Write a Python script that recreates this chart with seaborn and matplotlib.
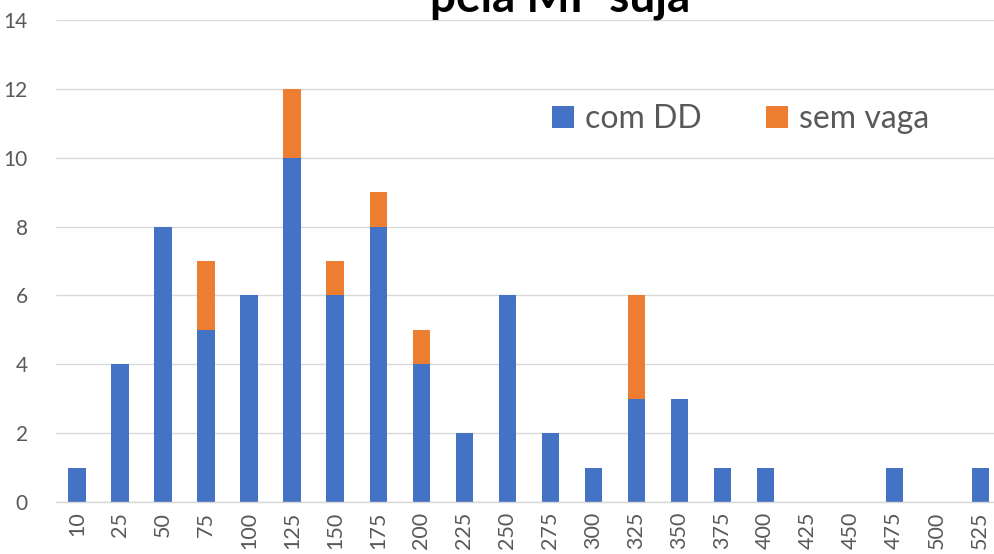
import matplotlib
matplotlib.use("Agg")
import matplotlib.pyplot as plt
import seaborn as sns
import pandas as pd

categories = ["10", "25", "50", "75", "100", "125", "150", "175", "200", "225", "250",
              "275", "300", "325", "350", "375", "400", "425", "450", "475", "500", "525"]
com_dd = [1, 4, 8, 5, 6, 10, 6, 8, 4, 2, 6, 2, 1, 3, 3, 1, 1, 0, 0, 1, 0, 1]
sem_vaga = [0, 0, 0, 2, 0, 2, 1, 1, 1, 0, 0, 0, 0, 3, 0, 0, 0, 0, 0, 0, 0, 0]
yticks = [0, 2, 4, 6, 8, 10, 12, 14]
title = "pela MP suja"

sns.set_theme(style="white")
plt.rcParams["font.family"] = ["Lato", "DejaVu Sans"]

df = pd.DataFrame({"cat": categories, "com": com_dd,
                   "total": [a + b for a, b in zip(com_dd, sem_vaga)]})

blue = "#4472C4"
orange = "#ED7D31"
grey = "#595959"

fig = plt.figure(figsize=(9.95, 5.54), dpi=100)
ax = fig.add_axes([0.0558, 0.0939, 0.951, 0.870])

sns.barplot(data=df, x="cat", y="total", order=categories, color=orange,
            saturation=1, width=0.4, ax=ax, label="sem vaga", linewidth=0)
sns.barplot(data=df, x="cat", y="com", order=categories, color=blue,
            saturation=1, width=0.4, ax=ax, label="com DD", linewidth=0)

ax.set_ylim(0, 14)
ax.set_xlim(-0.5, len(categories) - 0.5)
ax.set_yticks(yticks)
ax.yaxis.grid(True, color="#D9D9D9", linewidth=1)
ax.set_axisbelow(True)
for s in ["top", "right", "left"]:
    ax.spines[s].set_visible(False)
ax.spines["bottom"].set_color("#D9D9D9")
ax.spines["bottom"].set_linewidth(1)
ax.set_xlabel("")
ax.set_ylabel("")
ax.tick_params(axis="x", rotation=90, labelsize=15.5, colors=grey, length=0, pad=7)
ax.tick_params(axis="y", labelsize=15, colors=grey, length=0, pad=20)

handles, labels = ax.get_legend_handles_labels()
order = [labels.index("com DD"), labels.index("sem vaga")]
leg = ax.legend([handles[i] for i in order], [labels[i] for i in order],
                loc="upper left", bbox_to_anchor=(0.494, 0.885), ncol=2,
                frameon=False, fontsize=23, handlelength=0.7, handleheight=0.7,
                handletextpad=0.35, columnspacing=2.0, labelcolor=grey)

fig.text(0.563, 1 - 11 / 554, title, ha="center", va="baseline",
         fontsize=33, fontweight="bold", color="black")

fig.savefig("out.png", dpi=100)
